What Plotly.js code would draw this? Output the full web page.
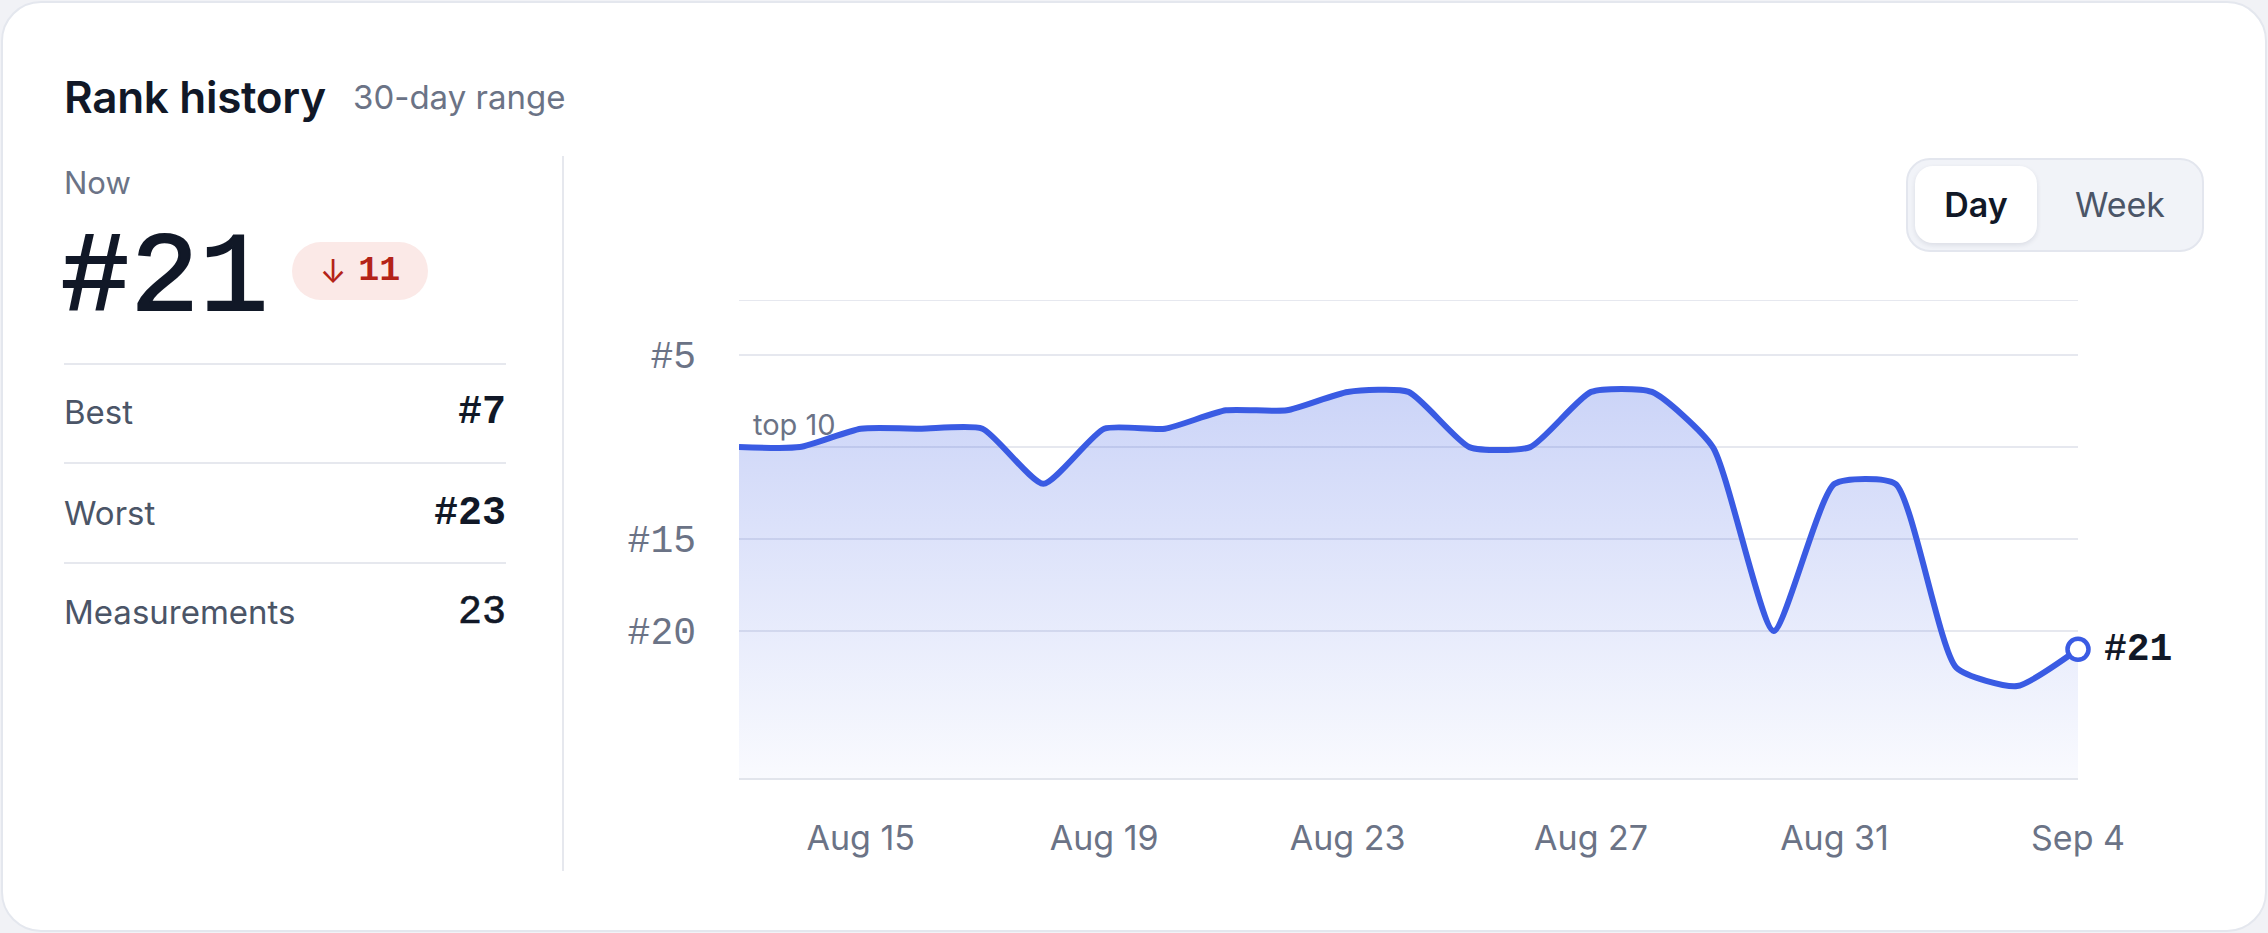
<!DOCTYPE html>
<html>
<head>
<meta charset="utf-8">
<script src="https://cdn.plot.ly/plotly-3.0.1.min.js"></script>
<style>
html,body{margin:0;padding:0;width:2268px;height:933px;overflow:hidden;background:#f1f2f6;font-family:Inter,"Noto Sans",sans-serif;}
#card{position:absolute;left:1px;top:1px;width:2262px;height:927px;background:#fff;border:2px solid #e4e7ee;border-radius:40px;}
.abs{position:absolute;white-space:nowrap;display:flex;align-items:center;}
.mono{font-family:"Liberation Mono","DejaVu Sans Mono",monospace;}
.sep{position:absolute;left:64px;width:442px;height:2px;background:#e6e8ee;}
.row{position:absolute;left:64px;width:442px;height:60px;display:flex;align-items:center;justify-content:space-between;}
.row .lab{font-size:33px;color:#4b5567;}
.row .val{font-size:40px;color:#111827;}
#chart{position:absolute;left:0;top:0;width:2268px;height:933px;}
</style>
</head>
<body>
<div id="card"></div>

<div class="abs" style="left:64px;top:72px;height:50px;font-size:44px;font-weight:600;color:#111827;letter-spacing:-0.3px;">Rank history</div>
<div class="abs" style="left:353px;top:72px;height:50px;font-size:33px;color:#6b7386;">30-day range</div>

<div class="abs" style="left:64px;top:162px;height:40px;font-size:31px;color:#6b7386;">Now</div>
<div class="abs mono" id="nowVal" style="left:61px;top:219px;height:120px;font-size:114px;font-weight:400;-webkit-text-stroke:2.2px #111827;color:#111827;letter-spacing:1px;"></div>
<div class="abs" id="badge" style="left:292px;top:242px;width:136px;height:58px;border-radius:29px;background:#fbe9e7;justify-content:center;gap:12px;color:#b42318;">
  <span style="font-family:Inter,sans-serif;font-size:32px;font-weight:400;">&#8595;</span>
  <span class="mono" id="deltaVal" style="font-size:35px;font-weight:700;"></span>
</div>

<div class="sep" style="top:363px;"></div>
<div class="row" style="top:382px;"><span class="lab">Best</span><span class="val mono" id="bestVal" style="font-weight:700;"></span></div>
<div class="sep" style="top:462px;"></div>
<div class="row" style="top:483px;"><span class="lab">Worst</span><span class="val mono" id="worstVal" style="font-weight:700;"></span></div>
<div class="sep" style="top:562px;"></div>
<div class="row" style="top:582px;"><span class="lab">Measurements</span><span class="val mono" id="countVal" style="-webkit-text-stroke:0.6px #111827;"></span></div>

<div style="position:absolute;left:562px;top:156px;width:2px;height:715px;background:#e6e8ee;"></div>

<div style="position:absolute;left:1906px;top:158px;width:298px;height:94px;box-sizing:border-box;background:#f1f3f8;border:2px solid #e3e6ee;border-radius:24px;"></div>
<div class="abs" style="left:1915px;top:166px;width:122px;height:77px;background:#fff;border-radius:18px;box-shadow:0 2px 5px rgba(20,30,60,0.10);justify-content:center;font-size:34px;font-weight:600;color:#111827;">Day</div>
<div class="abs" style="left:2040px;top:166px;width:160px;height:77px;justify-content:center;font-size:34px;color:#4b5567;">Week</div>

<div id="chart"></div>

<script>
// ---- data ----
const dates = ['2024-08-13','2024-08-14','2024-08-15','2024-08-16','2024-08-17','2024-08-18','2024-08-19','2024-08-20','2024-08-21','2024-08-22','2024-08-23','2024-08-24','2024-08-25','2024-08-26','2024-08-27','2024-08-28','2024-08-29','2024-08-30','2024-08-31','2024-09-01','2024-09-02','2024-09-03','2024-09-04'];
const ranks = [10,10,9,9,9,12,9,9,8,8,7,7,10,10,7,7,10,20,12,12,22,23,21];
const yTickVals = [5,10,15,20];
const yTickText = ['#5','','#15','#20'];
const rankRange = [28,2];
const topMark = 10;
const topMarkLabel = 'top 10';

// ---- summary ----
const last = ranks[ranks.length-1];
document.getElementById('nowVal').textContent = '#' + last;
document.getElementById('deltaVal').textContent = String(last - ranks[0]);
document.getElementById('bestVal').textContent = '#' + Math.min(...ranks);
document.getElementById('worstVal').textContent = '#' + Math.max(...ranks);
document.getElementById('countVal').textContent = String(ranks.length);

const blue = '#3a5be3';
const grid = '#e6e8ef';
const mono = '"Liberation Mono","DejaVu Sans Mono",monospace';

const baseline = {
  x: dates, y: dates.map(() => rankRange[0]),
  mode: 'lines', line: {width: 0, color: 'rgba(0,0,0,0)'},
  hoverinfo: 'skip', showlegend: false
};
const main = {
  x: dates, y: ranks, mode: 'lines',
  line: {color: blue, width: 6, shape: 'spline', smoothing: 0.55},
  fill: 'tonexty',
  fillcolor: 'rgba(58,91,227,0.15)',
  fillgradient: {type: 'vertical', start: rankRange[0], stop: 7,
    colorscale: [[0, 'rgba(58,91,227,0.03)'], [1, 'rgba(58,91,227,0.26)']]},
  cliponaxis: false, showlegend: false
};
const endPt = {
  x: [dates[dates.length-1]], y: [last], mode: 'markers',
  marker: {size: 21, color: '#ffffff', line: {color: blue, width: 4.5}},
  cliponaxis: false, showlegend: false
};

const layout = {
  width: 2268, height: 933,
  margin: {l: 739, r: 190, t: 300, b: 155},
  paper_bgcolor: 'rgba(0,0,0,0)', plot_bgcolor: 'rgba(0,0,0,0)',
  showlegend: false,
  font: {family: 'Inter, "Noto Sans", sans-serif', color: '#6b7386'},
  xaxis: {
    type: 'date', range: [dates[0], dates[dates.length-1]],
    tick0: '2024-08-15', dtick: 4*86400000, tickformat: '%b %-d',
    showgrid: false, zeroline: false, ticks: '',
    showline: true, linecolor: '#e2e5ec', linewidth: 2,
    tickfont: {size: 34, color: '#6b7386', family: 'Inter, sans-serif'},
    ticklabelstandoff: 29
  },
  yaxis: {
    range: rankRange, tickmode: 'array', tickvals: yTickVals, ticktext: yTickText,
    showgrid: true, gridcolor: grid, gridwidth: 2, zeroline: false, ticks: '',
    showline: false,
    tickfont: {size: 38, color: '#6b7386', family: mono},
    ticklabelstandoff: 42
  },
  shapes: [{type: 'line', xref: 'paper', x0: 0, x1: 1, yref: 'y', y0: rankRange[1], y1: rankRange[1],
    line: {color: grid, width: 2}, layer: 'below'}],
  annotations: [
    {x: dates[0], y: topMark, xref: 'x', yref: 'y', text: topMarkLabel, showarrow: false,
     xanchor: 'left', yanchor: 'bottom', xshift: 12, yshift: 3,
     font: {size: 29, color: '#6b7386', family: 'Inter, sans-serif'}},
    {x: dates[dates.length-1], y: last, xref: 'x', yref: 'y', text: '#' + last, showarrow: false,
     xanchor: 'left', yanchor: 'middle', xshift: 24,
     font: {size: 38, color: '#111827', family: mono, weight: 700}}
  ]
};

Plotly.newPlot('chart', [baseline, main, endPt], layout, {staticPlot: true, displayModeBar: false});
</script>
</body>
</html>
